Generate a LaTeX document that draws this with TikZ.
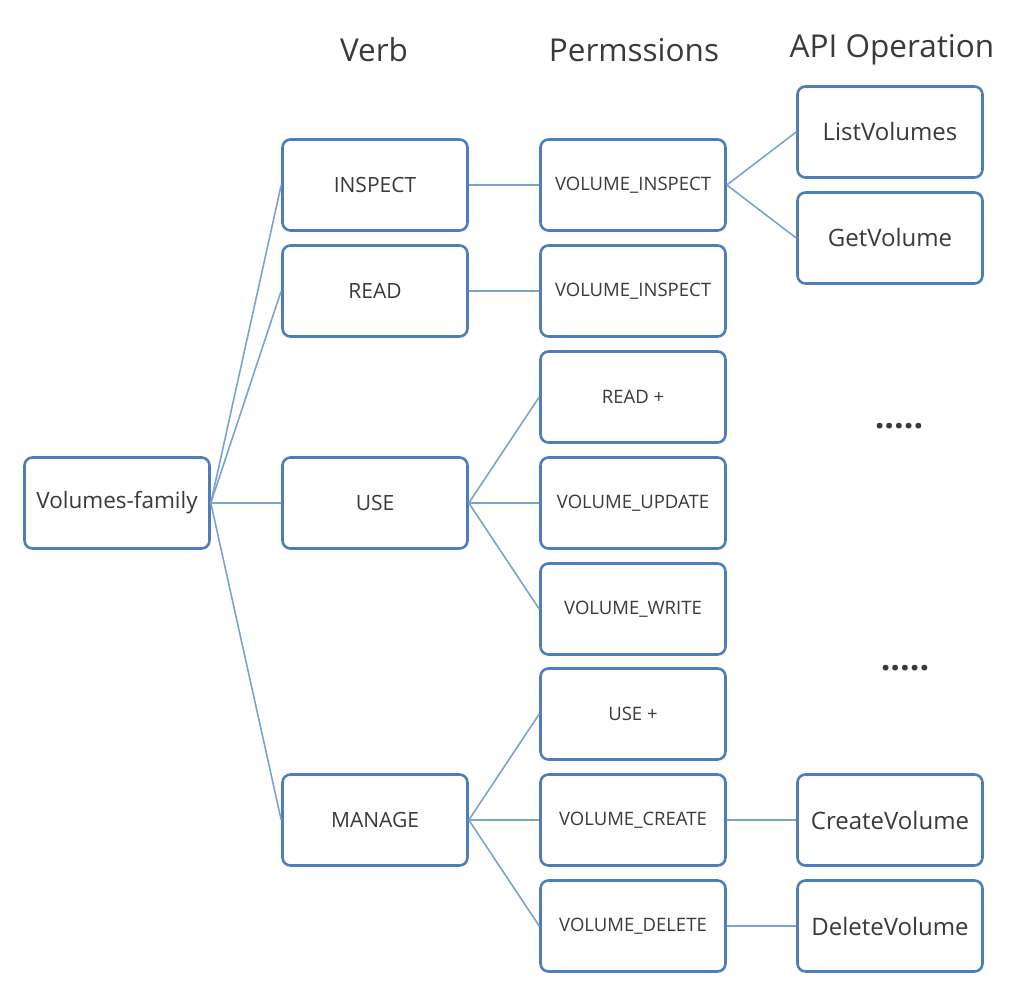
\documentclass[tikz,border=0pt]{standalone}
\usepackage{fontspec}
\setmainfont{Open Sans}
\definecolor{boxblue}{HTML}{4F7DB8}
\definecolor{linkblue}{HTML}{7AA3D2}
\definecolor{inkgrey}{HTML}{3C3A38}
\tikzset{
  permbox/.style={draw=boxblue, line width=2.6pt, rounded corners=8pt, fill=white,
    minimum width=185pt, minimum height=91pt, text=inkgrey, inner sep=0pt},
  link/.style={draw=linkblue, line width=1.6pt},
  colhead/.style={text=inkgrey, font=\fontsize{31.5}{34}\selectfont}
}
\begin{document}
\begin{tikzpicture}[x=1pt, y=-1pt]
    \useasboundingbox (0,0) rectangle (1028,1008);
    % Column headers
    \node[colhead] (hverb) at (374,50) {Verb};
    \node[colhead] (hperm) at (634,50) {Permssions};
    \node[colhead] (hapi) at (892,50) {API Operation};

    % Resource family and verbs
    \node[permbox, font=\fontsize{22.5}{26}\selectfont] (fam) at (117,503) {Volumes-family};
    \node[permbox, font=\fontsize{21}{24}\selectfont] (inspect) at (375,185) {INSPECT};
    \node[permbox, font=\fontsize{21}{24}\selectfont] (read) at (375,291) {READ};
    \node[permbox, font=\fontsize{21}{24}\selectfont] (use) at (375,503) {USE};
    \node[permbox, font=\fontsize{21}{24}\selectfont] (manage) at (375,820) {MANAGE};

    % Permissions
    \foreach \n/\y/\t in {pinsp/185/VOLUME\_INSPECT, pread/291/VOLUME\_INSPECT,
        readplus/397/READ +, pupdate/503/VOLUME\_UPDATE, pwrite/609/VOLUME\_WRITE,
        useplus/714/USE +, pcreate/820/VOLUME\_CREATE, pdelete/926/VOLUME\_DELETE}
      \node[permbox, font=\fontsize{18.5}{21}\selectfont] (\n) at (633,\y) {\t};

    % API operations
    \foreach \n/\y/\t in {list/132/ListVolumes, get/238/GetVolume,
        create/820/CreateVolume, delete/926/DeleteVolume}
      \node[permbox, font=\fontsize{24}{27}\selectfont] (\n) at (890,\y) {\t};

    \node[inkgrey, font=\fontsize{34}{34}\selectfont\bfseries] (dots1) at (899,426) {.....};
    \node[inkgrey, font=\fontsize{34}{34}\selectfont\bfseries] (dots2) at (905,668) {.....};

    % Connectors
    \foreach \v in {inspect,read,use,manage} \draw[link] (fam.east) -- (\v.west);
    \draw[link] (inspect.east) -- (pinsp.west);
    \draw[link] (read.east) -- (pread.west);
    \foreach \p in {readplus,pupdate,pwrite} \draw[link] (use.east) -- (\p.west);
    \foreach \p in {useplus,pcreate,pdelete} \draw[link] (manage.east) -- (\p.west);
    \foreach \a in {list,get} \draw[link] (pinsp.east) -- (\a.west);
    \draw[link] (pcreate.east) -- (create.west);
    \draw[link] (pdelete.east) -- (delete.west);
\end{tikzpicture}
\end{document}
